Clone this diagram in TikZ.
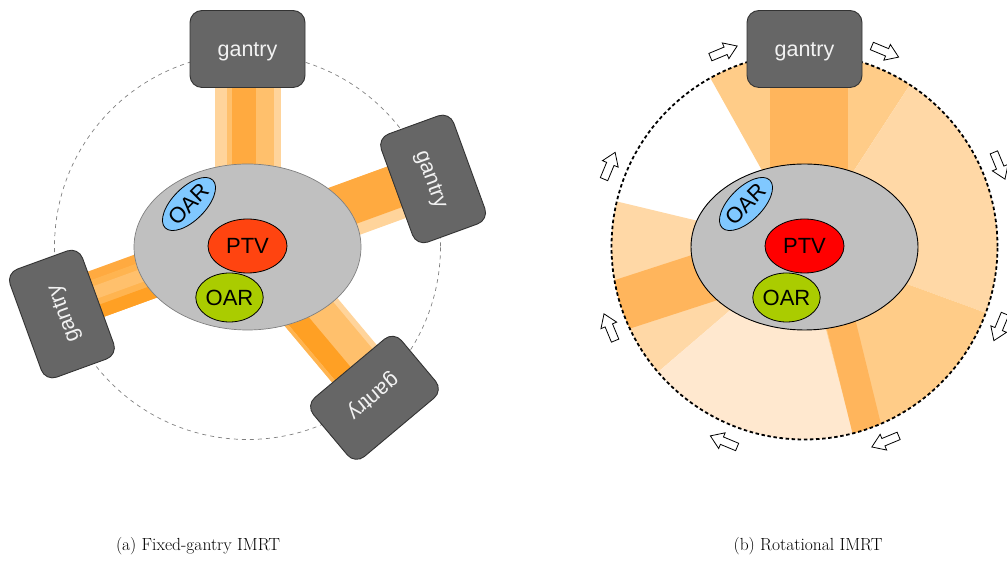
\documentclass[tikz,border=0pt]{standalone}
\usepackage{fontspec}
\newfontfamily\arialf{Liberation Sans}
\usetikzlibrary{shapes.geometric}
\definecolor{gfill}{RGB}{102,102,102}
\definecolor{gdraw}{RGB}{51,51,51}
\definecolor{gtext}{RGB}{242,242,242}
\definecolor{bodyfill}{RGB}{192,192,192}
\definecolor{ptvA}{RGB}{255,68,16}
\definecolor{ptvB}{RGB}{255,0,0}
\definecolor{oarG}{RGB}{170,204,0}
\definecolor{oarB}{RGB}{128,200,255}
\definecolor{bS}{RGB}{255,170,64}
\definecolor{bS2}{RGB}{255,160,36}
\definecolor{bMid}{RGB}{255,180,80}
\definecolor{bM}{RGB}{255,192,108}
\definecolor{bL}{RGB}{255,212,155}
\definecolor{wM}{RGB}{255,204,136}
\definecolor{wL}{RGB}{255,216,166}
\definecolor{wVL}{RGB}{255,232,207}
\definecolor{wS}{RGB}{255,181,92}
\begin{document}
\begin{tikzpicture}[x=1pt,y=1pt,
  gantry/.style={draw=gdraw, fill=gfill, rounded corners=12pt, minimum width=115pt,
    minimum height=77pt, line width=0.9pt, text=gtext, inner sep=0pt,
    text height=20pt, text depth=4.5pt,
    font=\arialf\fontsize{21.5}{24}\selectfont},
  organ/.style={ellipse, draw=black, line width=0.8pt, inner sep=0pt,
    font=\arialf\fontsize{22}{24}\selectfont},
  body/.style={ellipse, fill=bodyfill, inner sep=0pt, minimum width=227pt, minimum height=166pt},
  rotarrow/.style={draw=black, fill=white, line width=0.8pt, line join=miter},
  caption/.style={font=\fontsize{17.5}{21}\selectfont}
]
\useasboundingbox (0,0) rectangle (1007,562);
\clip (0,0) rectangle (1007,562);
\coordinate (C1) at (247.5,315.5);
\coordinate (C2) at (804.5,315.5);

% ===== Panel (a) =====
\draw[gray, line width=0.7pt, dash pattern=on 4pt off 4pt] (C1) circle[radius=193];

% beams
\begin{scope}[shift={(C1)}]
  \fill[bL] (-32.5,0) rectangle (33.5,160);
  \fill[bM] (-20.8,0) rectangle (26.5,160);
  \fill[bS] (-15.8,0) rectangle (8.5,160);
\end{scope}
\begin{scope}[shift={(C1)}, rotate=-70]
  \fill[bL] (-27.3,0) rectangle (27.4,160);
  \fill[bS] (-27.3,0) rectangle (15.9,160);
\end{scope}
\begin{scope}[shift={(C1)}, rotate=110]
  \fill[bS] (-17,0) rectangle (31,160);
  \fill[bMid] (-4,0) rectangle (21.9,160);
  \fill[bM] (2.5,0) rectangle (15.4,160);
  \fill[bS2] (-17,0) rectangle (-4,160);
\end{scope}
\begin{scope}[shift={(C1)}, rotate=-140]
  \fill[bL] (-35.7,0) rectangle (22.6,160);
  \fill[bM] (-30,0) rectangle (19,160);
  \fill[bS2] (-1.5,0) rectangle (19,160);
  \fill[bMid] (19,0) rectangle (22.6,160);
\end{scope}

\node[body, draw=gray, line width=0.7pt] (bodyA) at (247.5,315) {};
\node[organ, fill=ptvA, minimum width=79pt, minimum height=54pt] (ptvA) at (247.5,316) {PTV};
\node[organ, fill=oarG, minimum width=57pt, minimum height=49pt] (oarGA) at (229.5,264.5) {OAR};
\node[organ, fill=oarB, minimum width=61pt, minimum height=33pt, rotate=45] (oarBA) at (189,358) {OAR};

\node[gantry] (gTopA) at ([shift={(90:197.5)}]C1) {gantry};
\node[gantry, rotate=-70] (gRightA) at ([shift={(20:197.5)}]C1) {gantry};
\node[gantry, rotate=110] (gLeftA) at ([shift={(200:197.5)}]C1) {gantry};
\node[gantry, rotate=-140] (gBotA) at ([shift={(-50:197.5)}]C1) {gantry};

% ===== Panel (b) =====
\begin{scope}
  \clip (C2) circle[radius=193];
  \fill[wM] (C2) -- ++(56.9:260) arc[start angle=56.9, end angle=119.2, radius=260] -- cycle;
  \fill[wL] (C2) -- ++(-20.1:260) arc[start angle=-20.1, end angle=56.9, radius=260] -- cycle;
  \fill[wL] (C2) -- ++(166.5:260) arc[start angle=166.5, end angle=220.6, radius=260] -- cycle;
  \fill[wVL] (C2) -- ++(220.6:260) arc[start angle=220.6, end angle=284.5, radius=260] -- cycle;
  \fill[wM] (C2) -- ++(284.5:260) arc[start angle=284.5, end angle=339.9, radius=260] -- cycle;
  \begin{scope}[shift={(C2)}]
    \fill[wS] (-34.5,0) rectangle (43.5,200);
  \end{scope}
  \begin{scope}[shift={(C2)}, rotate=108]
    \fill[wS] (-24.1,0) rectangle (26.7,200);
  \end{scope}
  \begin{scope}[shift={(C2)}, rotate=-166.2]
    \fill[wS] (-31.9,0) rectangle (-2.1,200);
  \end{scope}
\end{scope}

\draw[black, line width=1.8pt, dash pattern=on 3.5pt off 2.6pt] (C2) circle[radius=193];

\node[body, draw=black, line width=0.9pt] (bodyB) at (804.5,315) {};
\node[organ, fill=ptvB, minimum width=79pt, minimum height=54pt] (ptvB) at (804.5,316) {PTV};
\node[organ, fill=oarG, minimum width=57pt, minimum height=49pt] (oarGB) at (786.5,264.5) {OAR};
\node[organ, fill=oarB, minimum width=61pt, minimum height=33pt, rotate=45] (oarBB) at (746,358) {OAR};

\node[gantry] (gTopB) at ([shift={(90:197.5)}]C2) {gantry};

\foreach \a in {22.5,67.5,112.5,157.5,202.5,247.5,292.5,337.5} {
  \begin{scope}[shift={(C2)}, rotate=\a]
    \draw[rotarrow] (207,14.5) -- (215,14.5) -- (215,-2) -- (219.5,-2) -- (211,-14.5)
      -- (202.5,-2) -- (207,-2) -- cycle;
  \end{scope}
}

% captions
\node[caption] (capA) at (198,16) {(a) Fixed-gantry IMRT};
\node[caption] (capB) at (808,16) {(b) Rotational IMRT};
\end{tikzpicture}
\end{document}
